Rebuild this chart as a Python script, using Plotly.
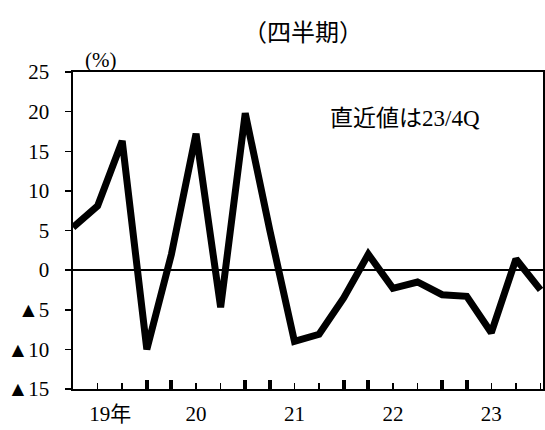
import plotly.graph_objects as go

# Data: quarterly, 2019 Q1 .. 2023 Q4
quarters = list(range(20))
values = [5.4, 8.1, 16.3, -10.0, 2.0, 17.2, -4.7, 19.8, 5.0, -9.0,
          -8.1, -3.5, 2.0, -2.3, -1.5, -3.1, -3.3, -7.9, 1.4, -2.5]

# year labels sit under the 2nd quarter of each year
year_labels = {1: "\u2003\u200919年", 5: "20", 9: "21", 13: "22", 17: "23"}
x_tick_text = [year_labels.get(q, "") for q in quarters]
year_boundary_ticks = [3, 4, 7, 8, 11, 12, 15, 16]

y_tick_vals = [-15, -10, -5, 0, 5, 10, 15, 20, 25]
y_tick_text = ["▲15", "▲10", "▲5", "0", "5", "10", "15", "20", "25"]

FONT = "Times New Roman, Liberation Serif, Noto Sans CJK JP"

W, H = 545, 430
L, R, T, B = 73, 543, 72, 389

fig = go.Figure()
fig.add_trace(go.Scatter(x=quarters, y=values, mode="lines",
                         line=dict(color="black", width=7),
                         showlegend=False, hoverinfo="skip"))
fig.add_trace(go.Scatter(x=[quarters[0]], y=[values[0]], xaxis="x2", mode="markers",
                         marker=dict(opacity=0), showlegend=False, hoverinfo="skip"))

common_x = dict(range=[0, 19.1], showgrid=False, zeroline=False, automargin=False)

fig.update_layout(
    width=W, height=H,
    margin=dict(l=L, r=W - R, t=T, b=H - B, autoexpand=False),
    paper_bgcolor="white", plot_bgcolor="white",
    font=dict(family=FONT, color="black", size=20),
    title=dict(text="（四半期）", x=303 / W, xref="container", xanchor="center",
               y=1 - 33 / H, yref="container", yanchor="middle",
               font=dict(size=24, family=FONT, color="black")),
    xaxis=dict(**common_x, tickmode="array", tickvals=quarters,
               ticktext=x_tick_text, ticks="inside", ticklen=6, tickwidth=1.5,
               tickcolor="black",
               showline=True, linecolor="black", linewidth=2, mirror=True,
               tickfont=dict(size=21, family=FONT), ticklabelstandoff=5),
    xaxis2=dict(**common_x, overlaying="x", anchor="y", side="bottom",
                tickmode="array", tickvals=year_boundary_ticks, ticks="inside",
                ticklen=9, tickwidth=4, tickcolor="black", showticklabels=False,
                showline=False),
    yaxis=dict(range=[-15, 25], tickmode="array", tickvals=y_tick_vals,
               ticktext=y_tick_text, ticks="outside", ticklen=6, tickwidth=1.5,
               tickcolor="black", showgrid=False, zeroline=True, automargin=False,
               zerolinecolor="black", zerolinewidth=2,
               showline=True, linecolor="black", linewidth=2.5, mirror=True,
               tickfont=dict(size=21, family=FONT), ticklabelstandoff=11),
    annotations=[
        dict(text="直近値は23/4Q", x=(405 - L) / (R - L), y=(B - 118) / (B - T),
             xref="paper", yref="paper",
             showarrow=False, xanchor="center", yanchor="middle",
             font=dict(size=23, family=FONT)),
        dict(text="(%)", x=(100 - L) / (R - L), y=(B - 60) / (B - T),
             xref="paper", yref="paper",
             showarrow=False, xanchor="center", yanchor="middle",
             font=dict(size=21, family=FONT)),
    ],
)

# remove the page's default 8px body margin so the figure fills the window
fig.write_html("out.html",
               config={"displayModeBar": False, "staticPlot": True},
               post_script="document.body.style.margin='0';"
                           "document.documentElement.style.overflow='hidden';")
